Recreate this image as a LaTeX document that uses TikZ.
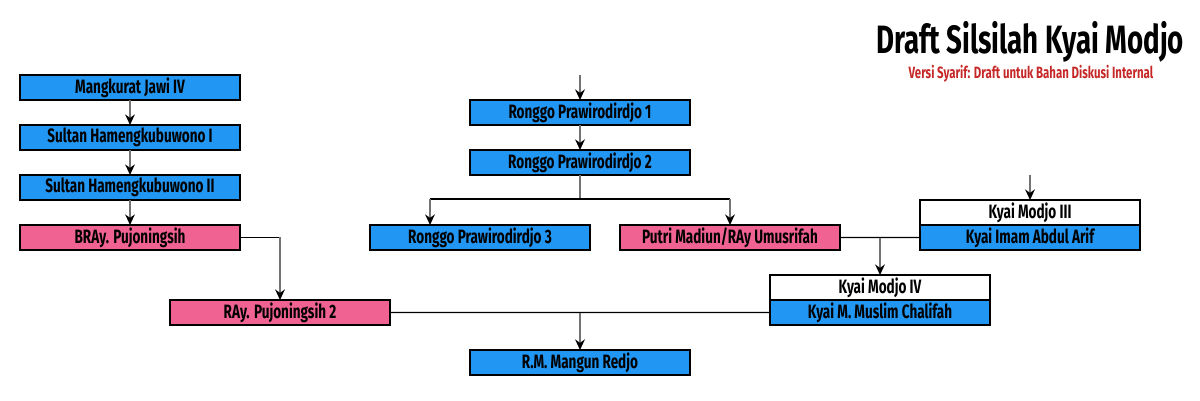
\documentclass[tikz,border=0pt]{standalone}
\usepackage{fontspec}
\setmainfont{Fira Sans}[FakeStretch=0.7]
\usepackage{tikz}
\usetikzlibrary{arrows.meta,positioning,calc}
\usepackage{xcolor}
\definecolor{kmblue}{RGB}{33,150,243}
\definecolor{kmpink}{RGB}{240,98,146}
\definecolor{kmred}{RGB}{198,40,40}
\definecolor{kmgrey}{RGB}{115,115,115}
\tikzstyle{bluebox} = [rectangle, minimum width=4.4cm, minimum height=0.5cm, inner sep=0pt, outer sep=0pt, text centered, draw=black, fill=kmblue, line width=0.8pt, font=\bfseries\fontsize{11}{12}\selectfont]
\tikzstyle{pinkbox} = [bluebox, fill=kmpink]
\tikzstyle{whitebox} = [bluebox, fill=white]
\tikzstyle{arrow} = [line width=1.4pt, color=kmgrey, -{Stealth[black,length=6pt,width=5.5pt]}]
\tikzstyle{stem} = [line width=1.4pt, color=kmgrey]
\tikzstyle{link} = [line width=0.8pt, color=black]

\begin{document}
\begin{tikzpicture}[x=0.02cm, y=-0.02cm]
\useasboundingbox (0,0) rectangle (1200,400);
% Title
\node[anchor=base, font=\bfseries\fontsize{22.5}{24}\selectfont] (title) at (1030,53) {Draft Silsilah Kyai Modjo};
\node[anchor=base, text=kmred, font=\bfseries\fontsize{9.3}{10}\selectfont] (subtitle) at (1031,78) {Versi Syarif: Draft untuk Bahan Diskusi Internal};
% Mataram line
\node[bluebox] (mangkurat) at (130,87.5) {Mangkurat Jawi IV};
\node[bluebox, below=0.5cm of mangkurat] (hb1) {Sultan Hamengkubuwono I};
\node[bluebox, below=0.5cm of hb1] (hb2) {Sultan Hamengkubuwono II};
\node[pinkbox, below=0.5cm of hb2] (bray) {BRAy. Pujoningsih};
\node[pinkbox] (ray) at (280,312.5) {RAy. Pujoningsih 2};
% Ronggo line
\coordinate (rtop) at (580,75);
\node[bluebox] (rp1) at (580,112.5) {Ronggo Prawirodirdjo 1};
\node[bluebox, below=0.5cm of rp1] (rp2) {Ronggo Prawirodirdjo 2};
\node[bluebox] (rp3) at (480,237.5) {Ronggo Prawirodirdjo 3};
\node[pinkbox] (putri) at (730,237.5) {Putri Madiun/RAy Umusrifah};
% Modjo line
\coordinate (mtop) at (1030,175);
\node[whitebox] (modjo3) at (1030,212.5) {Kyai Modjo III};
\node[bluebox, below=0cm of modjo3] (arif) {Kyai Imam Abdul Arif};
\node[whitebox] (modjo4) at (880,287.5) {Kyai Modjo IV};
\node[bluebox, below=0cm of modjo4] (muslim) {Kyai M. Muslim Chalifah};
\node[bluebox] (mangun) at (580,362.5) {R.M. Mangun Redjo};

% Connectors
\draw[arrow] (mangkurat) -- (hb1);
\draw[arrow] (hb1) -- (hb2);
\draw[arrow] (hb2) -- (bray);
\coordinate (bturn) at (ray.north |- bray.east);
\draw[link] (bray.east) -- (bturn);
\draw[arrow] (bturn) -- (ray.north);

\draw[arrow] (rtop) -- (rp1);
\draw[arrow] (rp1) -- (rp2);
\coordinate (rsplit) at (580,199);
\coordinate (rleft) at (430,199);
\coordinate (rright) at (putri.north |- rsplit);
\draw[stem] (rp2.south) -- (rsplit);
\draw[link] (rleft) -- (rright);
\draw[arrow] (rleft) -- (rleft |- rp3.north);
\draw[arrow] (rright) -- (putri.north);

\draw[arrow] (mtop) -- (modjo3.north);
\draw[link] (putri.east) -- (arif.west);
\coordinate (wed1) at (modjo4.north |- putri.east);
\draw[arrow] (wed1) -- (modjo4.north);

\draw[link] (ray.east) -- (muslim.west);
\coordinate (wed2) at (mangun.north |- ray.east);
\draw[arrow] (wed2) -- (mangun.north);
\end{tikzpicture}
\end{document}
